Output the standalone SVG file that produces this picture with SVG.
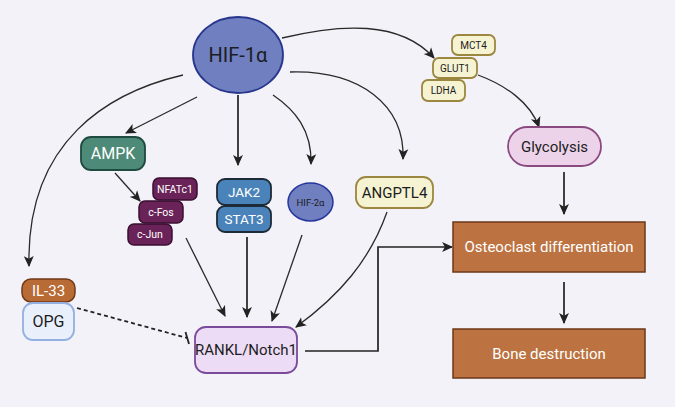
<svg xmlns="http://www.w3.org/2000/svg" width="675" height="407" viewBox="0 0 675 407">
  <defs>
    <marker id="arrow" viewBox="0 0 10 10" refX="9" refY="5" markerWidth="11" markerHeight="11" orient="auto" markerUnits="userSpaceOnUse">
      <path d="M0,0.5 L10,5 L0,9.5 L2.5,5 Z" fill="#222"/>
    </marker>
  </defs>
  <style>
    text { font-family: Roboto, "Liberation Sans", sans-serif; text-anchor: middle; dominant-baseline: central; }
    .edge { fill: none; stroke: #222; stroke-width: 1.7; marker-end: url(#arrow); }
    .thin { fill: none; stroke: #2a2a2a; stroke-width: 1.3; marker-end: url(#arrow); }
    .hif { fill: #6f7fc0; stroke: #27368c; stroke-width: 1.8; }
    .gold { fill: #f6f3d3; stroke: #9c8741; stroke-width: 1.8; }
    .plum { fill: #6a2358; stroke: #3a0f30; stroke-width: 1.5; }
    .blue { fill: #4a83b9; stroke: #1d2a38; stroke-width: 1.8; }
    .brown { fill: #bc7341; stroke: #6c3819; stroke-width: 1.5; }
    .dark { fill: #1c1c22; }
    .light { fill: #ffffff; }
  </style>
  <rect width="675" height="407" fill="#f3f2f8"/>

  <g id="connectors">
    <path class="thin" d="M183,75 C110,92 26,140 29,266"/>
    <path class="thin" d="M197,97 L126,133"/>
    <path class="thin" d="M115,173 L140,201"/>
    <path class="thin" d="M282,38 C340,24 400,20 434,58"/>
    <path class="thin" d="M290,72 C360,70 405,105 403,159"/>
    <path class="thin" d="M273,95 C295,110 312,130 311,164"/>
    <path class="edge" d="M238,95 L238,165"/>
    <path class="thin" d="M478,75 C505,85 530,102 539,127"/>
    <path class="edge" d="M564,172 L564,214"/>
    <path class="edge" d="M564,282 L564,323"/>
    <path class="thin" d="M186,238 L225,316"/>
    <path class="edge" d="M247,237 L247,317"/>
    <path class="thin" d="M302,235 L272,321"/>
    <path class="thin" d="M387,212 C370,260 340,295 296,327"/>
    <path class="edge" d="M305,351 L378,351 L378,247 L452,247"/>
    <path d="M77,308 L187,338" fill="none" stroke="#222" stroke-width="1.8" stroke-dasharray="4,3"/>
    <path d="M185.5,332 L189,344" fill="none" stroke="#222" stroke-width="1.8"/>
  </g>

  <g id="hif1a">
    <ellipse class="hif" cx="238" cy="55" rx="45" ry="38"/>
    <text class="dark" x="238" y="55" font-size="20">HIF-1α</text>
  </g>

  <g id="mct4">
    <rect class="gold" x="452" y="35" width="43" height="20" rx="6"/>
    <text class="dark" x="473.5" y="45" font-size="10">MCT4</text>
  </g>
  <g id="glut1">
    <rect class="gold" x="433" y="58" width="44" height="20" rx="6"/>
    <text class="dark" x="455" y="68" font-size="10">GLUT1</text>
  </g>
  <g id="ldha">
    <rect class="gold" x="422" y="80" width="43" height="21" rx="6"/>
    <text class="dark" x="443.5" y="90.5" font-size="10">LDHA</text>
  </g>

  <g id="ampk">
    <rect x="81" y="137" width="64" height="33" rx="10" fill="#4e8a78" stroke="#1f4a3f" stroke-width="1.8"/>
    <text class="light" x="113" y="153.5" font-size="16">AMPK</text>
  </g>

  <g id="nfatc1">
    <rect class="plum" x="153" y="178" width="44" height="22" rx="6"/>
    <text class="light" x="175" y="189" font-size="10.5">NFATc1</text>
  </g>
  <g id="cfos">
    <rect class="plum" x="139" y="201" width="44" height="22" rx="6"/>
    <text class="light" x="161" y="212" font-size="10.5">c-Fos</text>
  </g>
  <g id="cjun">
    <rect class="plum" x="128" y="224" width="44" height="21" rx="6"/>
    <text class="light" x="150" y="234.5" font-size="10.5">c-Jun</text>
  </g>

  <g id="jak2">
    <rect class="blue" x="217" y="179" width="54" height="26" rx="8"/>
    <text class="light" x="244" y="192" font-size="13.5">JAK2</text>
  </g>
  <g id="stat3">
    <rect class="blue" x="217" y="206" width="54" height="26" rx="8"/>
    <text class="light" x="244" y="219" font-size="13.5">STAT3</text>
  </g>

  <g id="hif2a">
    <ellipse cx="310.5" cy="202" rx="22.5" ry="19" fill="#6f7fc0" stroke="#27369c" stroke-width="1.5"/>
    <text class="dark" x="310.5" y="202" font-size="9.5">HIF-2α</text>
  </g>

  <g id="angptl4">
    <rect class="gold" x="356" y="177" width="77" height="31" rx="10"/>
    <text class="dark" x="394.5" y="192.5" font-size="15">ANGPTL4</text>
  </g>

  <g id="il33">
    <rect x="22" y="279" width="53" height="23" rx="9" fill="#b96b36" stroke="#733a17" stroke-width="1.5"/>
    <text class="light" x="48.5" y="290.5" font-size="15">IL-33</text>
  </g>
  <g id="opg">
    <rect x="23" y="303" width="51" height="37" rx="10" fill="#e9f0fb" stroke="#93b0e0" stroke-width="1.8"/>
    <text class="dark" x="48.5" y="321.5" font-size="16">OPG</text>
  </g>

  <g id="rankl">
    <rect x="195" y="327" width="102" height="46" rx="11" fill="#ecdcf6" stroke="#7b4b9b" stroke-width="1.8"/>
    <text class="dark" x="246" y="350" font-size="15">RANKL/Notch1</text>
  </g>

  <g id="glycolysis">
    <rect x="508" y="127" width="93" height="39" rx="19.5" fill="#ecd3ea" stroke="#8a4a80" stroke-width="1.8"/>
    <text class="dark" x="554.5" y="146.5" font-size="15">Glycolysis</text>
  </g>

  <g id="osteoclast">
    <rect class="brown" x="453" y="222" width="192" height="50"/>
    <text class="light" x="549" y="247" font-size="15">Osteoclast differentiation</text>
  </g>
  <g id="bone">
    <rect class="brown" x="453" y="329" width="192" height="49"/>
    <text class="light" x="549" y="353.5" font-size="15">Bone destruction</text>
  </g>
</svg>
